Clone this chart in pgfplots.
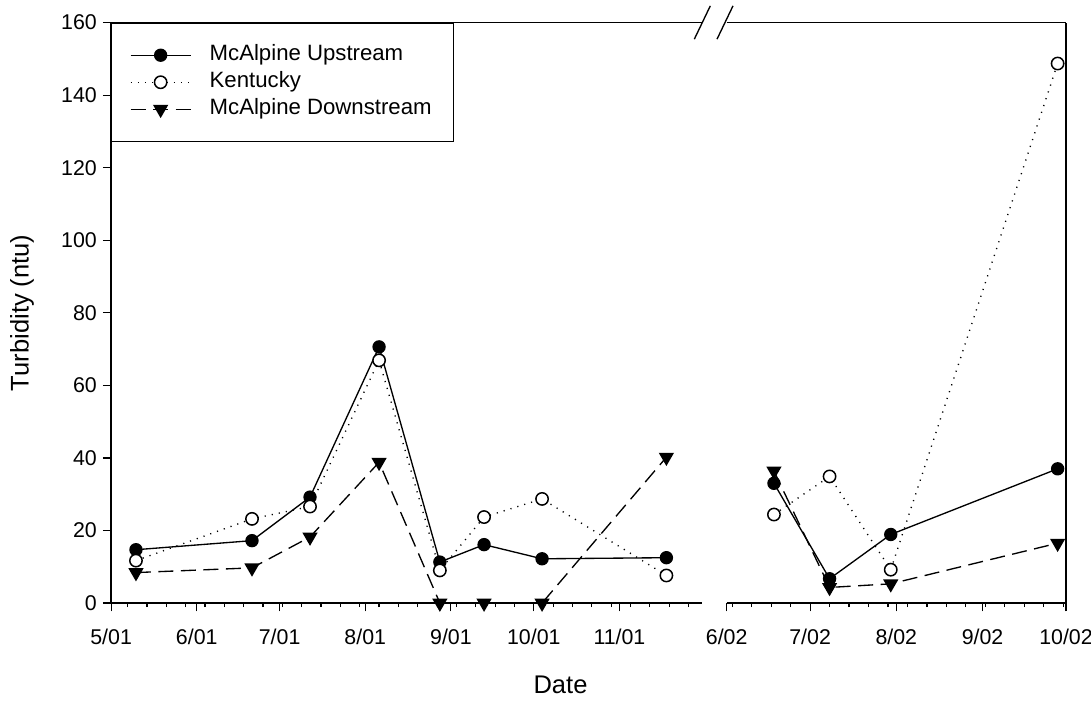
\documentclass[border=0pt]{standalone}
\usepackage{fontspec}
\setmainfont{Liberation Sans}
\setsansfont{Liberation Sans}
\usepackage{pgfplots}
\pgfplotsset{compat=1.18}

% x = days since the first of the panel's first month
\pgfplotsset{
  turb/.style={
    scale only axis, height=348pt, ymin=0, ymax=160,
    clip=false,
    tick align=outside,
    major tick length=5pt, minor tick length=2.5pt,
    every tick/.style={black, line width=0.7pt},
    axis line style={line width=1pt},
    /pgf/number format/assume math mode=true,
    tick label style={font=\fontsize{12.8}{15}\selectfont},
    xticklabel style={yshift=-7pt},
    label style={font=\fontsize{15.3}{18}\selectfont},
  },
  up/.style={black, line width=0.8pt, mark=*, mark size=3.6pt,
    mark options={solid, fill=black}},
  ky/.style={black, line width=0.8pt, dash pattern=on 0.7pt off 3.6pt,
    mark=*, mark size=3.7pt, mark options={solid, draw=black, fill=white, line width=0.9pt}},
  dn/.style={black, line width=0.8pt, dash pattern=on 9pt off 4.5pt,
    mark=triangle*, mark size=4.5pt, mark options={solid, fill=black, rotate=180}},
}

\begin{document}
\begin{tikzpicture}
\useasboundingbox (-66.6pt,-59.7pt) rectangle (587.4pt,361.5pt);

\begin{axis}[turb, width=354.4pt,
  xmin=0, xmax=214,
  axis x line*=bottom, axis y line*=left,
  xtick={0,31,61,92,123,153,184},
  xticklabels={5/01,6/01,7/01,8/01,9/01,10/01,11/01},
  minor xtick={6,13,20,27,34,41,48,55,62,69,76,83,90,97,104,111,118,125,132,139,146,160,167,174,181,188,195,202,209},
  ytick={0,20,...,160},
  ylabel={Turbidity (ntu)},
  ylabel style={at={(axis description cs:-0.1507,0.5)}, anchor=center},
  xlabel={Date},
  xlabel style={at={(axis description cs:0,0)}, anchor=base, xshift=269.4pt, yshift=-54.3pt},
  legend cell align=left,
  legend image code/.code={\draw[mark repeat=2,mark phase=2,#1]
    plot coordinates {(0pt,0pt) (18pt,0pt) (36pt,0pt)};},
  legend style={at={(axis description cs:0,1)}, anchor=north west,
    draw=black, line width=0.6pt, inner xsep=11pt, inner ysep=11.2pt,
    font=\fontsize{13.3}{15}\selectfont,
    nodes={text height=9.5pt, text depth=2.7pt, inner ysep=2pt},
    /tikz/every odd column/.append style={column sep=9pt}},
]
\addplot[up] coordinates {(9,14.7) (51,17.2) (72,29.2) (97,70.6) (119,11.3) (135,16.1) (156,12.2) (201,12.5)};
\addlegendentry{McAlpine Upstream}
\addplot[ky] coordinates {(9,11.7) (51,23.2) (72,26.6) (97,66.9) (119,9.0) (135,23.7) (156,28.7) (201,7.6)};
\addlegendentry{Kentucky}
\addplot[dn] coordinates {(9,8.4) (51,9.7) (72,18.2) (97,38.8) (119,0) (135,0) (156,0) (201,40.2)};
\addlegendentry{McAlpine Downstream}
\draw[line width=1pt] (rel axis cs:0,1) -- (rel axis cs:1,1);
\draw[line width=0.8pt] ([shift={(-4.8pt,-10pt)}]rel axis cs:1,1) -- ([shift={(4.8pt,10pt)}]rel axis cs:1,1);
\end{axis}

\begin{axis}[turb, at={(369pt,0pt)}, width=203.4pt,
  xmin=0, xmax=122,
  axis x line*=bottom, axis y line*=right,
  xtick={0,30,61,92,122},
  xticklabels={6/02,7/02,8/02,9/02,10/02},
  minor xtick={2,9,16,23,37,44,51,58,65,72,79,86,93,100,107,114,121},
  ytick=\empty,
]
\addplot[up] coordinates {(17,33.0) (37,6.7) (59,18.9) (119,37.0)};
\addplot[ky] coordinates {(17,24.4) (37,34.9) (59,9.2) (119,148.7)};
\addplot[dn] coordinates {(17,36.4) (37,4.3) (59,5.3) (119,16.5)};
\draw[line width=1pt] (rel axis cs:0,1) -- (rel axis cs:1,1);
\draw[line width=0.8pt] ([shift={(-5.8pt,-10pt)}]rel axis cs:0,1) -- ([shift={(3.8pt,10pt)}]rel axis cs:0,1);
\end{axis}
\end{tikzpicture}
\end{document}
